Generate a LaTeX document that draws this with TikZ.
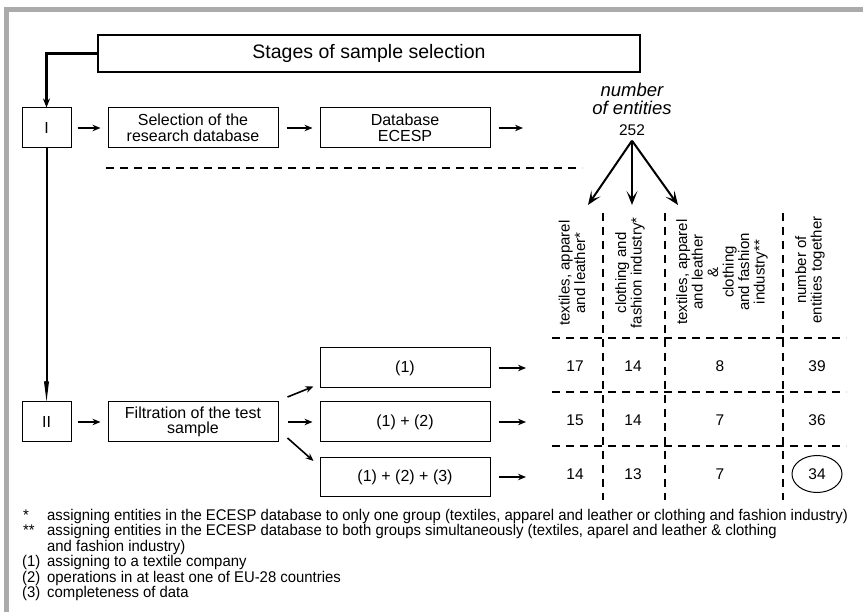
\documentclass[tikz,border=0pt]{standalone}
\usepackage{fontspec}
\setmainfont{Liberation Sans}
\newfontfamily\fnfont[FakeStretch=0.96]{Liberation Sans}
\usetikzlibrary{arrows.meta,calc,shapes.geometric}
\definecolor{framegray}{HTML}{ABABAB}
\begin{document}
\begin{tikzpicture}[x=1pt,y=-1pt,
  box/.style={draw,line width=1pt,minimum height=40pt,align=center,inner sep=0pt,
    font=\fontsize{16}{15.5}\selectfont},
  arr/.style={line width=1.6pt,-{Stealth[length=8pt,width=6.5pt]}},
  fanarr/.style={line width=2pt,-{Stealth[length=14pt,width=11pt,inset=7pt]}},
  dsh/.style={line width=1.5pt,dash pattern=on 8pt off 6pt},
  hdr/.style={rotate=90,align=center,inner sep=0pt,font=\fontsize{15}{15.5}\selectfont},
  val/.style={inner sep=0pt,font=\fontsize{15.5}{15.5}\selectfont},
  fnm/.style={anchor=base west,inner sep=0pt,font=\fnfont\fontsize{15.5}{15.5}\selectfont},
]
\useasboundingbox (0,0) rectangle (863,612);
% grey frame
\fill[framegray] (4,7) rectangle (863,12);
\fill[framegray] (4,7) rectangle (9,612);

% title
\node[draw,line width=2.5pt,minimum width=542pt,minimum height=37pt,inner sep=0pt,
  font=\fontsize{19.5}{19.5}\selectfont] (title) at (369,53.5) {Stages of sample selection};

% stage I row
\node[box,minimum width=49pt] (b1) at (46.5,128) {I};
\node[box,minimum width=170pt] (sel) at (193,128) {Selection of the\\research database};
\node[box,minimum width=170pt] (db) at (405,128) {Database\\ECESP};
\coordinate (dbo) at (523,128);
\draw[line width=2.2pt,-{Stealth[length=9pt,width=7pt]}] (title.west) -| (b1.north);
\draw[arr,shorten <=6pt,shorten >=7pt] (b1) -- (sel);
\draw[arr,shorten <=8pt,shorten >=7pt] (sel) -- (db);
\draw[arr,shorten <=8pt] (db) -- (dbo);

% number of entities
\node[align=center,inner sep=0pt,font=\itshape\fontsize{18.5}{18}\selectfont] (num) at (632,99) {number\\of entities};
\node[val] (n252) at (632,130) {252};
\coordinate (t1) at (588,205);
\coordinate (t2) at (632,205);
\coordinate (t3) at (678,205);
\draw[fanarr] ([yshift=-5pt]n252.south) -- (t1);
\draw[fanarr] ([yshift=-5pt]n252.south) -- (t2);
\draw[fanarr] ([yshift=-5pt]n252.south) -- (t3);

% dashed separator
\coordinate (d1) at (106,168);
\coordinate (d2) at (582,168);
\draw[dsh] (d1) -- (d2);

% stage II
\node[box,minimum width=49pt] (b2) at (46.5,422) {II};
\draw[line width=2pt,-{Stealth[length=40pt,width=10pt,inset=22pt]}] (b1) -- (b2);
\node[box,minimum width=170pt] (filt) at (193,422) {Filtration of the test\\sample};
\draw[arr,shorten <=6pt,shorten >=7pt] (b2) -- (filt);
\node[box,minimum width=170pt] (r1) at (405,368) {(1)};
\node[box,minimum width=170pt] (r2) at (405,422) {(1) + (2)};
\node[box,minimum width=170pt,minimum height=39pt] (r3) at (405,477) {(1) + (2) + (3)};
\draw[arr] ([xshift=9pt,yshift=25pt]filt.east) -- ([xshift=-6pt,yshift=2pt]r1.south west);
\draw[arr,shorten <=9pt,shorten >=7pt] (filt) -- (r2);
\draw[arr] ([xshift=9pt,yshift=-16pt]filt.east) -- ([xshift=-6pt,yshift=-4pt]r3.north west);
\coordinate (o1) at (526,368);
\coordinate (o2) at (526,422);
\coordinate (o3) at (526,477);
\draw[arr,shorten <=8pt] (r1) -- (o1);
\draw[arr,shorten <=8pt] (r2) -- (o2);
\draw[arr,shorten <=8pt] (r3) -- (o3);

% table grid
\coordinate (c1a) at (603,213); \coordinate (c1b) at (603,500);
\coordinate (c2a) at (665,213); \coordinate (c2b) at (665,500);
\coordinate (c3a) at (783,213); \coordinate (c3b) at (783,500);
\coordinate (r1a) at (552,338); \coordinate (r1b) at (846,338);
\coordinate (r2a) at (552,392); \coordinate (r2b) at (846,392);
\coordinate (r3a) at (552,446); \coordinate (r3b) at (846,446);
\draw[dsh] (c1a) -- (c1b);
\draw[dsh] (c2a) -- (c2b);
\draw[dsh] (c3a) -- (c3b);
\draw[dsh] (r1a) -- (r1b);
\draw[dsh] (r2a) -- (r2b);
\draw[dsh] (r3a) -- (r3b);

% headers
\node[hdr] (h1) at (572,273) {textiles, apparel\\and leather*};
\node[hdr] (h2) at (630,273) {clothing and\\fashion industry*};
\node[hdr] (h3) at (722,272) {textiles, apparel\\and leather\\\&\\clothing\\and fashion\\industry**};
\node[hdr] (h4) at (810,270) {number of\\entities together};

% values
\node[val] (v11) at (575,366) {17};
\node[val] (v12) at (633,366) {14};
\node[val] (v13) at (720,366) {8};
\node[val] (v14) at (817,366) {39};
\node[val] (v21) at (575,420) {15};
\node[val] (v22) at (633,420) {14};
\node[val] (v23) at (720,420) {7};
\node[val] (v24) at (817,420) {36};
\node[val] (v31) at (575,474) {14};
\node[val] (v32) at (633,474) {13};
\node[val] (v33) at (720,474) {7};
\node[draw,ellipse,line width=1pt,minimum width=50pt,minimum height=37pt,inner sep=0pt,
  font=\fontsize{15.5}{15.5}\selectfont] (v34) at (817,474) {34};

% footnotes
\node[fnm] (f1m) at (23,520) {*};
\node[fnm] (f1t) at (47,520) {assigning entities in the ECESP database to only one group (textiles, apparel and leather or clothing and fashion industry)};
\node[fnm] (f2m) at (23,535.5) {**};
\node[fnm] (f2t) at (47,535.5) {assigning entities in the ECESP database to both groups simultaneously (textiles, aparel and leather \& clothing};
\node[fnm] (f3t) at (47,551) {and fashion industry)};
\node[fnm] (f4m) at (22,566.5) {(1)};
\node[fnm] (f4t) at (47,566.5) {assigning to a textile company};
\node[fnm] (f5m) at (22,582) {(2)};
\node[fnm] (f5t) at (47,582) {operations in at least one of EU-28 countries};
\node[fnm] (f6m) at (22,597.5) {(3)};
\node[fnm] (f6t) at (47,597.5) {completeness of data};
\end{tikzpicture}
\end{document}
